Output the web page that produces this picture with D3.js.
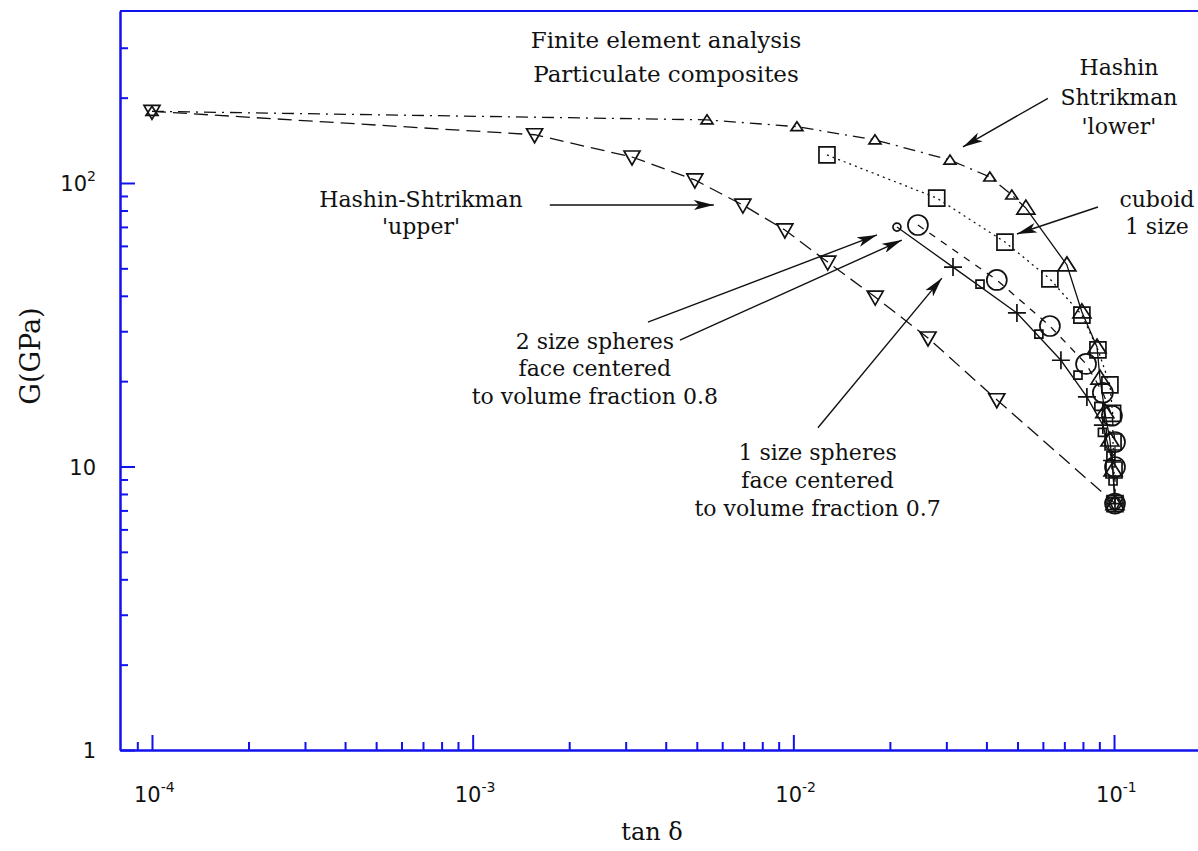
<!DOCTYPE html>
<html>
<head>
<meta charset="utf-8">
<script src="https://cdn.jsdelivr.net/npm/d3@7"></script>
<style>
  body { margin: 0; background: #fff; }
  text { font-family: "DejaVu Serif", serif; fill: #111; }
  .tick-label { font-family: "DejaVu Sans", sans-serif; }
</style>
</head>
<body>
<div id="chart"></div>
<script>
// Hashin-Shtrikman 'upper' bound (down triangles, long dashes)
var hsUpperX = [1e-4, 1.56e-3, 3.14e-3, 4.93e-3, 6.96e-3, 9.41e-3, 0.0128, 0.0180, 0.0263, 0.0431, 0.1007];
var hsUpperY = [179, 148, 123.5, 102.5, 83.6, 68.3, 52.6, 39.6, 28.4, 17.2, 7.4];

// Hashin-Shtrikman 'lower' bound (small up triangles, dash-dot)
var hsLowerX = [1e-4, 5.38e-3, 0.01026, 0.01797, 0.0308, 0.0410, 0.0480, 0.0531];
var hsLowerY = [179, 167, 158, 142, 120.5, 105, 90.7, 81.6];

// continuation of the lower bound (large up triangles, solid)
var hsLowerTailX = [0.0531, 0.0713, 0.0794, 0.0885, 0.0904, 0.0936, 0.0971, 0.0993, 0.1007];
var hsLowerTailY = [81.6, 51.4, 35.1, 26.4, 20.5, 15.6, 12.4, 9.72, 7.4];

// cuboid, 1 size (squares, dotted)
var cuboidX = [0.01273, 0.0280, 0.0457, 0.0631, 0.0794, 0.0891, 0.0971, 0.0990, 0.0993, 0.1, 0.1007];
var cuboidY = [125.6, 88.5, 61.9, 45.9, 34.2, 25.8, 19.4, 15.4, 12.2, 9.72, 7.4];

// 2 size spheres, face centered, vf 0.8 (large circles, dashed)
var spheres2X = [0.02446, 0.0431, 0.0631, 0.0818, 0.0923, 0.0985, 0.1007, 0.1007, 0.1007];
var spheres2Y = [71.1, 45.5, 31.3, 23.0, 18.2, 15.1, 12.2, 9.96, 7.4];

// 1 size spheres, face centered, vf 0.7 (crosses, solid)
var spheres1X = [0.02104, 0.03147, 0.0498, 0.0683, 0.0823, 0.0923, 0.0986, 0.1007];
var spheres1Y = [69.9, 50.5, 34.8, 23.7, 17.6, 14.0, 10.5, 7.4];

// small squares sitting on the 1 size spheres curve
var smallSqX = [0.0382, 0.0583, 0.0772, 0.0897, 0.0920, 0.0978, 0.0993];
var smallSqY = [44.0, 29.3, 21.0, 16.3, 13.2, 10.9, 8.89];

// axis ticks
var xMajor = [1e-4, 1e-3, 1e-2, 1e-1];
var xMajorExp = ["-4", "-3", "-2", "-1"];
var yMajor = [1, 10, 100];
var yMajorLabel = [["1", ""], ["10", ""], ["10", "2"]];

// annotation arrows [from, to] in data units
var arrowHsLower = [[0.0622, 199], [0.0338, 134]];
var arrowCuboid = [[0.0891, 82.3], [0.0498, 66.1]];
var arrowHsUpper = [[1.74e-3, 83.6], [5.65e-3, 83.6]];
var arrowSph2a = [[3.52e-3, 32.3], [0.01823, 65.6]];
var arrowSph2b = [[4.43e-3, 27.9], [0.0218, 62.9]];
var arrowSph1 = [[0.01193, 13.7], [0.02906, 46.2]];

// annotation text: anchor in data units + lines
var noteHsLower = [0.1036, 254, ["Hashin", "Shtrikman", "'lower'"]];
var noteCuboid = [0.136, 87.1, ["cuboid", "1 size"]];
var noteHsUpper = [6.9e-4, 87.1, ["Hashin-Shtrikman", "'upper'"]];
var noteSph2 = [2.405e-3, 27.5, ["2 size spheres", "face centered", "to volume fraction 0.8"]];
var noteSph1 = [0.0119, 11.2, ["1 size spheres", "face centered", "to volume fraction 0.7"]];

var titleLines = ["Finite element analysis", "Particulate composites"];

// ---- layout ----
var W = 1198, H = 851;
var margin = {left: 120, top: 11, bottom: 750, right: 1200};
var axisColor = "#1212ee";

var svg = d3.select("#chart").append("svg")
    .attr("width", W)
    .attr("height", H);

var defs = svg.append("defs");
defs.append("marker")
    .attr("id", "ah")
    .attr("viewBox", "0 0 20 10")
    .attr("refX", 20).attr("refY", 5)
    .attr("markerWidth", 20).attr("markerHeight", 10)
    .attr("markerUnits", "userSpaceOnUse")
    .attr("orient", "auto")
  .append("path")
    .attr("d", "M0,0 L20,5 L0,10 L5,5 Z")
    .attr("fill", "#111");

// log scales: decade of 320.7 px on x, 283.5 px on y
var x = d3.scaleLog().domain([7.948e-5, 0.1854]).range([margin.left, margin.right]);
var y = d3.scaleLog().domain([1, 404.3]).range([margin.bottom, margin.top]);

function minors(lo, hi) {
    var out = [];
    for (var e = -5; e <= 3; e++) {
        for (var m = 2; m <= 9; m++) {
            var v = m * Math.pow(10, e);
            if (v > lo && v < hi) out.push(v);
        }
    }
    return out;
}

// ---- axes ----
var gx = svg.append("g").attr("transform", "translate(0," + margin.bottom + ")");
gx.append("g").call(d3.axisBottom(x).tickValues(minors(8.1e-5, 0.18)).tickSize(-8).tickSizeOuter(0).tickFormat(""));
gx.append("g").call(d3.axisBottom(x).tickValues(xMajor).tickSize(-15).tickSizeOuter(0).tickFormat(""));

var gy = svg.append("g").attr("transform", "translate(" + margin.left + ",0)");
gy.append("g").call(d3.axisLeft(y).tickValues(minors(1, 390)).tickSize(-8).tickSizeOuter(0).tickFormat(""));
gy.append("g").call(d3.axisLeft(y).tickValues(yMajor).tickSize(-15).tickSizeOuter(0).tickFormat(""));

svg.selectAll(".domain, .tick line")
    .attr("stroke", axisColor)
    .attr("stroke-width", 2);

// top frame line
svg.append("line")
    .attr("x1", margin.left).attr("x2", margin.right)
    .attr("y1", margin.top).attr("y2", margin.top)
    .attr("stroke", axisColor).attr("stroke-width", 2);

// x tick labels
xMajor.forEach(function(v, i) {
    var t = svg.append("text")
        .attr("class", "tick-label")
        .attr("x", x(v) - 18)
        .attr("y", margin.bottom + 52)
        .attr("font-size", 21);
    t.append("tspan").text("10");
    t.append("tspan").attr("dy", -10).attr("font-size", 14).text(xMajorExp[i]);
});

// y tick labels
yMajor.forEach(function(v, i) {
    var t = svg.append("text")
        .attr("class", "tick-label")
        .attr("x", 96)
        .attr("y", y(v) + 8)
        .attr("text-anchor", "end")
        .attr("font-size", 21);
    t.append("tspan").text(yMajorLabel[i][0]);
    if (yMajorLabel[i][1]) t.append("tspan").attr("dy", -10).attr("font-size", 14).text(yMajorLabel[i][1]);
});

// axis titles
svg.append("text")
    .attr("x", 652).attr("y", 840)
    .attr("text-anchor", "middle")
    .attr("font-size", 24)
    .text("tan \u03b4");

svg.append("text")
    .attr("transform", "translate(40,356) rotate(-90)")
    .attr("text-anchor", "middle")
    .attr("font-size", 27)
    .text("G(GPa)");

// chart title
titleLines.forEach(function(s, i) {
    svg.append("text")
        .attr("x", 666).attr("y", 48 + i * 34)
        .attr("text-anchor", "middle")
        .attr("font-size", 23)
        .text(s);
});

// ---- markers ----
function markerPath(type) {
    switch (type) {
        case "triDown": return "M-8,-6L8,-6L0,8Z";
        case "triUpSmall": return "M-6,4L6,4L0,-5Z";
        case "triUpBig": return "M-9,6L9,6L0,-8Z";
        case "square": return "M-8,-8H8V8H-8Z";
        case "squareSmall": return "M-4,-4H4V4H-4Z";
        case "circleBig": return "M10,0A10,10 0 1,1 -10,0A10,10 0 1,1 10,0Z";
        case "circleSmall": return "M4,0A4,4 0 1,1 -4,0A4,4 0 1,1 4,0Z";
        case "plus": return "M-9,0H9M0,-9V9";
    }
}

var plot = svg.append("g");
var line = d3.line().x(function(d) { return x(d[0]); }).y(function(d) { return y(d[1]); });

function zipXY(xs, ys) { return xs.map(function(v, i) { return [v, ys[i]]; }); }

function drawSeries(xs, ys, dash, marker, skipLine) {
    var pts = zipXY(xs, ys);
    if (!skipLine) {
        plot.append("path")
            .datum(pts)
            .attr("d", line)
            .attr("fill", "none")
            .attr("stroke", "#111")
            .attr("stroke-width", 1.3)
            .attr("stroke-dasharray", dash);
    }
    plot.selectAll(null)
        .data(pts)
        .enter()
        .append("path")
            .attr("transform", function(d) { return "translate(" + x(d[0]) + "," + y(d[1]) + ")"; })
            .attr("d", function(d, i) { return typeof marker === "function" ? marker(i, pts.length) : markerPath(marker); })
            .attr("fill", "none")
            .attr("stroke", "#111")
            .attr("stroke-width", 1.7);
}

drawSeries(hsUpperX, hsUpperY, "14,7", "triDown");
drawSeries(hsLowerX, hsLowerY, "12,6,2,6", function(i, n) { return i < n - 1 ? markerPath("triUpSmall") : ""; });
drawSeries(hsLowerTailX, hsLowerTailY, null, "triUpBig");
drawSeries(cuboidX, cuboidY, "2,4", "square");
drawSeries(spheres2X, spheres2Y, "7,7", "circleBig");
drawSeries(spheres1X, spheres1Y, null, function(i) { return i === 0 ? markerPath("circleSmall") : markerPath("plus"); });
drawSeries(smallSqX, smallSqY, null, "squareSmall", true);

// inner ring of the shared end point
plot.append("path")
    .attr("transform", "translate(" + x(spheres2X[spheres2X.length - 1]) + "," + y(spheres2Y[spheres2Y.length - 1]) + ")")
    .attr("d", "M6,0A6,6 0 1,1 -6,0A6,6 0 1,1 6,0Z")
    .attr("fill", "none").attr("stroke", "#111").attr("stroke-width", 1.6);

// ---- annotations ----
[arrowHsLower, arrowCuboid, arrowHsUpper, arrowSph2a, arrowSph2b, arrowSph1].forEach(function(a) {
    svg.append("line")
        .attr("x1", x(a[0][0])).attr("y1", y(a[0][1]))
        .attr("x2", x(a[1][0])).attr("y2", y(a[1][1]))
        .attr("stroke", "#111")
        .attr("stroke-width", 1.4)
        .attr("marker-end", "url(#ah)");
});

[[noteHsLower, 29.5], [noteCuboid, 27], [noteHsUpper, 27], [noteSph2, 27.5], [noteSph1, 28]].forEach(function(n) {
    var note = n[0], step = n[1];
    note[2].forEach(function(s, i) {
        svg.append("text")
            .attr("x", x(note[0]))
            .attr("y", y(note[1]) + 7 + i * step)
            .attr("text-anchor", "middle")
            .attr("font-size", 22)
            .text(s);
    });
});
</script>
</body>
</html>
